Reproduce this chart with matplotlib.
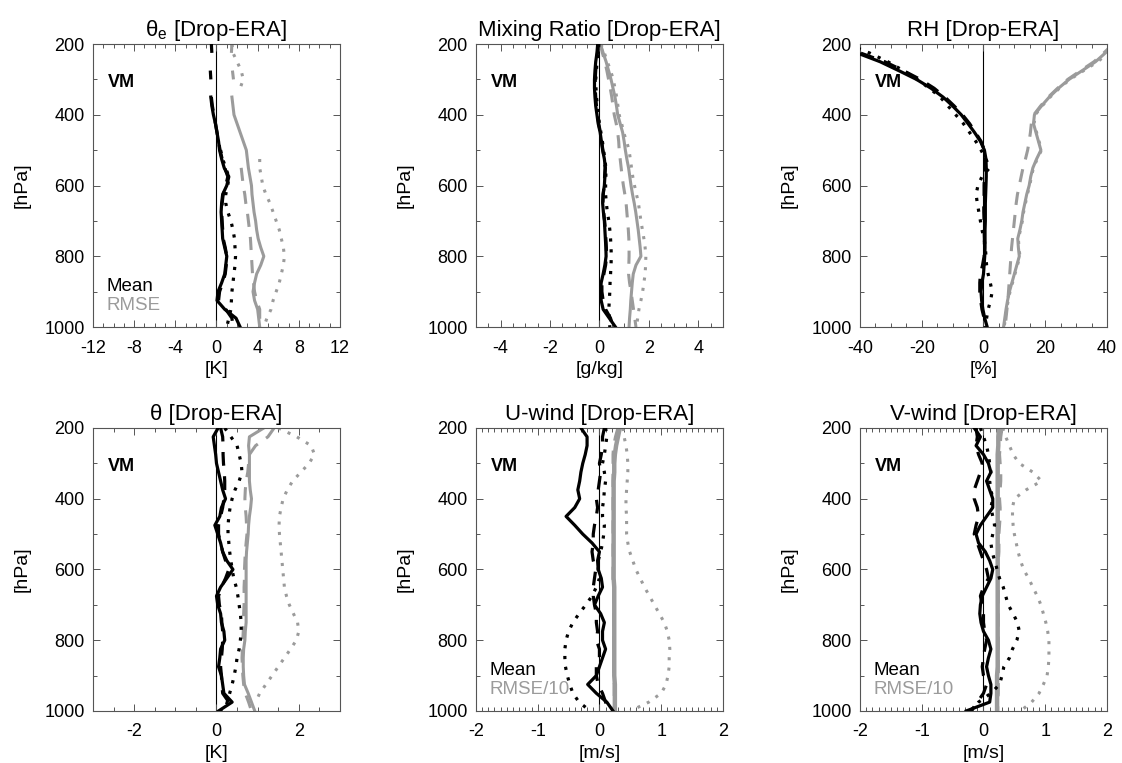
import numpy as np
import matplotlib.pyplot as plt
from matplotlib.ticker import MultipleLocator

plt.rcParams['font.family'] = ['Liberation Sans', 'DejaVu Sans']
plt.rcParams['mathtext.fontset'] = 'custom'
plt.rcParams['mathtext.rm'] = 'Liberation Sans'
plt.rcParams['axes.unicode_minus'] = False

nan = np.nan
GREY = '#9b9b9b'

# pressure levels [hPa]
p_levels = [200, 225, 250, 275, 300, 325, 350, 375, 400, 425, 450,
            475, 500, 525, 550, 575, 600, 625, 650, 675, 700, 725,
            750, 775, 800, 825, 850, 875, 900, 925, 950, 975, 1000]

# theta-e [K]
the_mean_solid = [nan, nan, nan, nan, nan, nan, -0.55, -0.45, -0.3, -0.1, 0.05,
                  0.2, 0.3, 0.5, 0.75, 1.2, 1.0, 0.6, 0.5, 0.45, 0.5, 0.55,
                  0.6, 0.8, 1.0, 0.9, 0.8, 0.5, 0.15, 0.05, 0.8, 1.9, 2.3]
the_mean_dash = [-0.5, -0.45, nan, -0.6, -0.55, nan, -0.5, -0.4, -0.25, -0.1, 0.05,
                 0.2, 0.35, 0.55, 0.8, 1.1, 0.9, 0.65, 0.55, 0.5, 0.55, 0.6,
                 0.65, 0.85, 1.0, 0.95, 0.85, 0.6, 0.3, 0.2, 0.9, 1.5, 1.6]
the_mean_dot = [nan, nan, nan, nan, nan, nan, nan, nan, nan, nan, nan,
                nan, 0.4, 0.6, 0.9, 1.2, 1.1, 0.9, 0.9, 1.1, 1.4, 1.6,
                1.75, 1.8, 1.85, 1.8, 1.7, 1.6, 1.5, 1.45, 1.4, 1.2, 1.0]
the_rmse_solid = [nan, nan, nan, nan, nan, nan, 1.5, 1.6, 1.7, 2.0, 2.3,
                  2.6, 2.9, 3.0, 3.1, 3.25, 3.4, 3.45, 3.55, 3.65, 3.8, 3.9,
                  4.05, 4.3, 4.6, 4.3, 3.9, 3.7, 3.55, 3.7, 4.0, 4.1, 4.2]
the_rmse_dash = [1.5, 1.45, nan, 1.55, 1.65, nan, nan, nan, nan, nan, nan,
                 nan, nan, nan, 2.4, 2.5, 2.6, 2.75, 2.85, 3.0, 3.1, 3.2,
                 3.3, 3.35, 3.4, 3.45, 3.5, 3.6, 3.7, 3.9, 4.2, 4.2, 4.2]
the_rmse_dot = [1.5, 1.6, 2.0, 2.4, 2.6, 2.3, nan, nan, nan, nan, nan,
                nan, nan, 4.2, 4.2, 4.35, 4.5, 4.8, 5.2, 5.5, 5.8, 6.1,
                6.3, 6.5, 6.6, 6.5, 6.3, 6.1, 5.8, 5.5, 5.3, 4.9, 4.6]

# mixing ratio [g/kg]
mr_mean_solid = [-0.07, -0.1, -0.15, -0.18, -0.2, -0.2, -0.18, -0.15, -0.1, -0.05, 0.03,
                 0.08, 0.13, 0.2, 0.24, 0.22, 0.2, 0.15, 0.13, 0.16, 0.2, 0.22,
                 0.24, 0.26, 0.27, 0.22, 0.15, 0.07, 0.05, 0.07, 0.15, 0.4, 0.65]
mr_mean_dash = [-0.05, -0.08, -0.12, -0.15, -0.17, -0.17, -0.15, -0.12, -0.08, -0.03, 0.04,
                0.09, 0.14, 0.2, 0.23, 0.21, 0.19, 0.15, 0.14, 0.17, 0.21, 0.24,
                0.26, 0.28, 0.29, 0.25, 0.18, 0.1, 0.1, 0.15, 0.25, 0.45, 0.55]
mr_mean_dot = [-0.02, -0.05, -0.1, -0.12, -0.15, -0.14, -0.12, -0.08, -0.04, 0.0, 0.06,
               0.12, 0.17, 0.22, 0.26, 0.26, 0.25, 0.25, 0.28, 0.32, 0.38, 0.42,
               0.45, 0.47, 0.48, 0.47, 0.45, 0.43, 0.42, 0.4, 0.38, 0.4, 0.42]
mr_rmse_solid = [0.04, 0.15, 0.27, 0.37, 0.47, 0.55, 0.63, 0.69, 0.74, 0.84, 0.94,
                 1.0, 1.05, 1.11, 1.18, 1.23, 1.28, 1.34, 1.41, 1.47, 1.52, 1.57,
                 1.61, 1.65, 1.68, 1.48, 1.37, 1.33, 1.3, 1.27, 1.25, 1.22, 1.2]
mr_rmse_dash = [0.04, 0.12, 0.22, 0.3, 0.37, 0.44, 0.5, 0.55, 0.6, 0.68, 0.74,
                0.78, 0.8, 0.84, 0.88, 0.92, 0.97, 1.03, 1.08, 1.11, 1.14, 1.17,
                1.19, 1.2, 1.2, 1.19, 1.18, 1.22, 1.28, 1.33, 1.38, 1.43, 1.48]
mr_rmse_dot = [0.06, 0.2, 0.32, 0.45, 0.56, 0.63, 0.7, 0.75, 0.8, 0.9, 0.98,
               1.1, 1.2, 1.25, 1.3, 1.35, 1.42, 1.5, 1.58, 1.63, 1.68, 1.74,
               1.8, 1.85, 1.88, 1.87, 1.85, 1.8, 1.75, 1.68, 1.6, 1.55, 1.5]

# relative humidity [%]
rh_mean_solid = [-48, -41, -33.5, -27.5, -21.7, -17, -13.1, -10, -7.2, -5, -2.9,
                 -1.0, 0.3, 0.8, 0.9, 0.9, 0.8, 0.7, 0.6, 0.6, 0.6, 0.5,
                 0.5, 0.5, 0.4, 0.2, 0.0, -0.5, -0.8, -0.6, -0.2, 0.4, 1.2]
rh_mean_dash = [-47, -40, -32, -26, -20.5, -16, -12.5, -9.5, -6.8, -4.5, -2.6,
                -0.8, 0.3, 0.5, 0.5, 0.3, 0.2, 0.2, 0.1, 0.1, 0.2, 0.2,
                0.3, 0.3, 0.2, -0.3, -1.0, -1.2, -1.2, -0.9, -0.5, 0.2, 0.8]
rh_mean_dot = [-44, -37, -31, -26, -21.5, -17.5, -14, -11.5, -9, -6.5, -4.5,
               -2.5, -0.8, 0.8, 2.0, -0.5, -1.8, -2.4, -2.0, -1.5, -1.0, -0.5,
               0.2, 0.6, 0.8, 1.0, 1.5, 2.2, 2.8, 2.3, 1.5, 1.0, 0.5]
rh_rmse_solid = [42, 39.5, 36.3, 32, 27.7, 24.3, 21.3, 18.8, 16.5, 16.2, 17,
                 17.8, 18.6, 17.2, 16.0, 15.3, 14.8, 14.0, 13.4, 12.8, 12.4, 11.8,
                 11.1, 11.3, 11.6, 10.8, 10.0, 9.2, 8.4, 7.8, 7.3, 6.9, 6.5]
rh_rmse_dash = [42, 39, 35.8, 31.5, 27.3, 24, 21, 18.5, 16.3, 15.5, 15.2,
                14.8, 14.3, 13.6, 12.8, 12.2, 11.6, 11.0, 10.6, 10.3, 10.0, 9.7,
                9.4, 9.1, 8.9, 8.7, 8.5, 8.3, 8.1, 7.9, 7.6, 7.3, 7.0]
rh_rmse_dot = [43, 40.5, 37, 32.5, 28, 24.6, 21.6, 19, 16.8, 16.4, 17.2,
               18, 18.8, 17.4, 16.2, 15.5, 15, 14.2, 13.6, 13, 12.6, 12,
               11.3, 11.5, 11.8, 11, 10.2, 9.4, 8.6, 8, 7.5, 7.1, 6.7]

# theta [K]
th_mean_solid = [0.04, -0.08, -0.05, -0.02, 0.0, 0.05, 0.1, 0.15, 0.22, 0.12, 0.08,
                 -0.04, 0.03, 0.1, 0.15, 0.25, 0.4, 0.25, 0.1, 0.0, 0.03, 0.1,
                 0.12, 0.18, 0.2, 0.1, 0.08, 0.05, 0.12, 0.15, 0.18, 0.38, 0.05]
th_mean_dash = [0.1, 0.15, 0.16, 0.16, 0.17, 0.19, 0.2, 0.2, 0.18, 0.15, 0.1,
                0.05, 0.05, 0.1, 0.15, 0.22, 0.3, 0.22, 0.12, 0.05, 0.07, 0.12,
                0.13, 0.15, 0.15, 0.14, 0.12, 0.1, 0.12, 0.13, 0.15, 0.3, 0.1]
th_mean_dot = [0.2, 0.35, 0.5, 0.55, 0.6, 0.62, 0.55, 0.45, 0.38, 0.33, 0.3,
               0.28, 0.28, 0.3, 0.32, 0.35, 0.38, 0.42, 0.48, 0.52, 0.55, 0.58,
               0.6, 0.6, 0.58, 0.55, 0.5, 0.47, 0.43, 0.38, 0.32, 0.26, 0.2]
th_rmse_solid = [1.15, 0.8, 0.78, 0.8, 0.8, 0.8, 0.8, 0.82, 0.85, 0.83, 0.8,
                 0.78, 0.77, 0.75, 0.73, 0.72, 0.72, 0.72, 0.72, 0.72, 0.72, 0.72,
                 0.72, 0.7, 0.69, 0.66, 0.65, 0.65, 0.66, 0.68, 0.77, 0.85, 0.93]
th_rmse_dash = [1.4, 1.25, 0.95, 0.8, 0.78, 0.76, 0.72, 0.7, 0.69, 0.7, 0.72,
                0.73, 0.74, 0.72, 0.7, 0.69, 0.68, 0.68, 0.67, 0.67, 0.67, 0.66,
                0.66, 0.65, 0.64, 0.63, 0.62, 0.63, 0.64, 0.66, 0.7, 0.78, 0.85]
th_rmse_dot = [1.5, 1.95, 2.3, 2.38, 2.25, 2.05, 1.85, 1.72, 1.62, 1.57, 1.53,
               1.52, 1.53, 1.55, 1.57, 1.59, 1.61, 1.63, 1.65, 1.7, 1.77, 1.87,
               1.97, 2.0, 1.94, 1.8, 1.65, 1.5, 1.35, 1.2, 1.05, 0.95, nan]

# u-wind [m/s], RMSE divided by 10
u_mean_solid = [-0.3, -0.2, -0.2, -0.23, -0.27, -0.3, -0.32, -0.35, -0.32, -0.4, -0.54,
                -0.4, -0.27, -0.12, 0.0, -0.03, -0.02, 0.03, 0.05, -0.02, -0.08, 0.02,
                0.08, 0.05, 0.05, 0.1, 0.05, 0.0, -0.05, -0.19, -0.05, 0.12, 0.22]
u_mean_dash = [0.08, 0.05, 0.05, 0.03, 0.0, 0.02, 0.0, -0.02, -0.05, -0.03, -0.05,
               -0.08, -0.1, -0.1, -0.12, -0.1, -0.06, -0.08, -0.1, -0.1, -0.08, -0.05,
               -0.05, -0.03, -0.05, 0.0, 0.0, -0.05, -0.05, -0.02, 0.05, 0.1, 0.15]
u_mean_dot = [0.1, 0.12, 0.1, 0.08, 0.05, 0.08, 0.1, 0.08, 0.07, 0.05, 0.05,
              0.08, 0.07, 0.05, 0.02, -0.02, -0.02, 0.0, -0.05, -0.12, -0.22, -0.33,
              -0.43, -0.5, -0.54, -0.56, -0.56, -0.55, -0.52, -0.48, -0.43, -0.33, -0.15]
u_rmse_solid = [0.33, 0.3, 0.27, 0.25, 0.24, 0.24, 0.23, 0.23, 0.23, 0.23, 0.23,
                0.23, 0.23, 0.23, 0.23, 0.23, 0.23, 0.23, 0.24, 0.24, 0.24, 0.24,
                0.24, 0.24, 0.24, 0.24, 0.24, 0.24, 0.24, 0.25, 0.25, 0.25, 0.25]
u_rmse_dash = [0.3, 0.26, 0.23, 0.22, 0.22, 0.22, 0.22, 0.22, 0.22, 0.22, 0.22,
               0.22, 0.22, 0.22, 0.22, 0.22, 0.22, 0.22, 0.23, 0.23, 0.23, 0.23,
               0.23, 0.23, 0.23, 0.23, 0.23, 0.23, 0.23, 0.24, 0.24, 0.24, 0.24]
u_rmse_dot = [0.38, 0.4, 0.43, 0.45, 0.46, 0.46, 0.45, 0.44, 0.43, 0.43, 0.44,
              0.44, 0.44, 0.46, 0.49, 0.54, 0.59, 0.66, 0.73, 0.81, 0.89, 0.97,
              1.05, 1.1, 1.13, 1.14, 1.13, 1.13, 1.11, 1.08, 1.0, 0.8, 0.5]

# v-wind [m/s], RMSE divided by 10
v_mean_solid = [-0.15, -0.05, -0.12, 0.0, 0.08, 0.12, 0.05, 0.1, 0.15, 0.15, 0.05,
                -0.05, -0.12, -0.08, 0.03, 0.1, 0.15, 0.12, 0.05, -0.02, -0.05, -0.06,
                -0.04, 0.0, 0.08, 0.12, 0.08, 0.05, 0.08, 0.12, 0.12, 0.1, -0.28]
v_mean_dash = [-0.12, -0.1, -0.12, -0.08, -0.02, -0.05, -0.1, -0.15, -0.15, -0.1, -0.08,
               -0.12, -0.15, -0.1, -0.05, 0.0, 0.05, 0.08, 0.0, -0.05, -0.02, 0.0,
               0.0, 0.02, 0.05, 0.02, 0.0, -0.02, 0.0, 0.05, 0.0, -0.1, -0.2]
v_mean_dot = [-0.05, 0.0, 0.05, 0.08, 0.1, 0.12, 0.1, 0.12, 0.15, 0.12, 0.15,
              0.18, 0.15, 0.12, 0.14, 0.18, 0.22, 0.26, 0.32, 0.36, 0.4, 0.48,
              0.55, 0.58, 0.54, 0.47, 0.42, 0.33, 0.3, 0.26, 0.12, -0.08, -0.2]
v_rmse_solid = [0.25, 0.24, 0.24, 0.23, 0.23, 0.23, 0.23, 0.23, 0.23, 0.23, 0.23,
                0.23, 0.23, 0.23, 0.23, 0.23, 0.23, 0.23, 0.23, 0.23, 0.23, 0.23,
                0.23, 0.23, 0.23, 0.23, 0.23, 0.23, 0.22, 0.22, 0.22, 0.22, 0.22]
v_rmse_dash = [0.3, 0.28, 0.27, 0.26, 0.27, 0.28, 0.28, 0.27, 0.26, 0.27, 0.27,
               0.26, 0.25, 0.25, 0.25, 0.24, 0.24, 0.24, 0.24, 0.24, 0.24, 0.24,
               0.24, 0.24, 0.24, 0.24, 0.24, 0.24, 0.24, 0.24, 0.24, 0.23, 0.23]
v_rmse_dot = [0.31, 0.36, 0.42, 0.48, 0.58, 0.8, 0.94, 0.69, 0.5, 0.47, 0.47,
              0.48, 0.5, 0.53, 0.56, 0.6, 0.65, 0.73, 0.8, 0.87, 0.93, 0.97,
              1.01, 1.04, 1.06, 1.06, 1.06, 1.05, 1.03, 0.97, 0.9, 0.78, 0.6]

DASH = (4.3, 3.3)
DOT = (1.0, 2.4)


def draw_panel(ax, mean, rmse, title, xlabel, xlim, xmajor, xminor,
               rmse_name=None, rmse_lw=2.2):
    ax.axvline(0, color='black', lw=0.8, zorder=1)
    # RMSE in grey underneath, mean differences in black on top
    ax.plot(rmse[0], p_levels, color=GREY, lw=rmse_lw, zorder=2)
    ax.plot(rmse[1], p_levels, color=GREY, lw=2.2, dashes=DASH, zorder=2)
    ax.plot(rmse[2], p_levels, color=GREY, lw=2.2, dashes=DOT, zorder=2)
    ax.plot(mean[0], p_levels, color='black', lw=2.3, zorder=3)
    ax.plot(mean[1], p_levels, color='black', lw=2.3, dashes=DASH, zorder=3)
    ax.plot(mean[2], p_levels, color='black', lw=2.3, dashes=DOT, zorder=3)

    ax.set_xlim(*xlim)
    ax.set_ylim(1000, 200)
    ax.xaxis.set_major_locator(MultipleLocator(xmajor))
    ax.xaxis.set_minor_locator(MultipleLocator(xminor))
    ax.set_yticks([200, 400, 600, 800, 1000])
    ax.yaxis.set_minor_locator(MultipleLocator(100))
    ax.tick_params(which='both', direction='in', top=True, right=True,
                   color='#555555', width=0.7)
    ax.tick_params(which='major', length=5, labelsize=13)
    ax.tick_params(which='minor', length=3)
    ax.tick_params(axis='x', pad=9)
    ax.tick_params(axis='y', pad=6)
    for s in ax.spines.values():
        s.set_color('#555555')
        s.set_linewidth(0.8)

    ax.set_title(title, fontsize=16, pad=6)
    ax.set_xlabel(xlabel, fontsize=14, labelpad=3.5)
    ax.set_ylabel('[hPa]', fontsize=14, labelpad=10)
    ax.text(0.06, 0.865, 'VM', transform=ax.transAxes, fontsize=13,
            fontweight='bold', va='center')
    if rmse_name:
        ax.text(0.055, 0.142, 'Mean', transform=ax.transAxes, fontsize=13.5,
                color='black', va='center')
        ax.text(0.055, 0.076, rmse_name, transform=ax.transAxes, fontsize=13.5,
                color=GREY, va='center')


fig = plt.figure(figsize=(11.22, 7.63), dpi=100)
W, H = 0.2201, 0.3709
lefts = [0.0829, 0.4242, 0.7665]
bottoms = [0.5714, 0.0682]

ax = fig.add_axes([lefts[0], bottoms[0], W, H])
draw_panel(ax, (the_mean_solid, the_mean_dash, the_mean_dot),
           (the_rmse_solid, the_rmse_dash, the_rmse_dot),
           'θ$_{\\rm e}$ [Drop-ERA]', '[K]', (-12, 12), 4, 1,
           rmse_name='RMSE')

ax = fig.add_axes([lefts[1], bottoms[0], W, H])
draw_panel(ax, (mr_mean_solid, mr_mean_dash, mr_mean_dot),
           (mr_rmse_solid, mr_rmse_dash, mr_rmse_dot),
           'Mixing Ratio [Drop-ERA]', '[g/kg]', (-5, 5), 2, 0.5)

ax = fig.add_axes([lefts[2], bottoms[0], W, H])
draw_panel(ax, (rh_mean_solid, rh_mean_dash, rh_mean_dot),
           (rh_rmse_solid, rh_rmse_dash, rh_rmse_dot),
           'RH [Drop-ERA]', '[%]', (-40, 40), 20, 5)

ax = fig.add_axes([lefts[0], bottoms[1], W, H])
draw_panel(ax, (th_mean_solid, th_mean_dash, th_mean_dot),
           (th_rmse_solid, th_rmse_dash, th_rmse_dot),
           'θ [Drop-ERA]', '[K]', (-3, 3), 2, 0.5)

ax = fig.add_axes([lefts[1], bottoms[1], W, H])
draw_panel(ax, (u_mean_solid, u_mean_dash, u_mean_dot),
           (u_rmse_solid, u_rmse_dash, u_rmse_dot),
           'U-wind [Drop-ERA]', '[m/s]', (-2, 2), 1, 0.1,
           rmse_name='RMSE/10', rmse_lw=3.2)

ax = fig.add_axes([lefts[2], bottoms[1], W, H])
draw_panel(ax, (v_mean_solid, v_mean_dash, v_mean_dot),
           (v_rmse_solid, v_rmse_dash, v_rmse_dot),
           'V-wind [Drop-ERA]', '[m/s]', (-2, 2), 1, 0.1,
           rmse_name='RMSE/10', rmse_lw=3.2)

fig.savefig('out.png', dpi=100)
